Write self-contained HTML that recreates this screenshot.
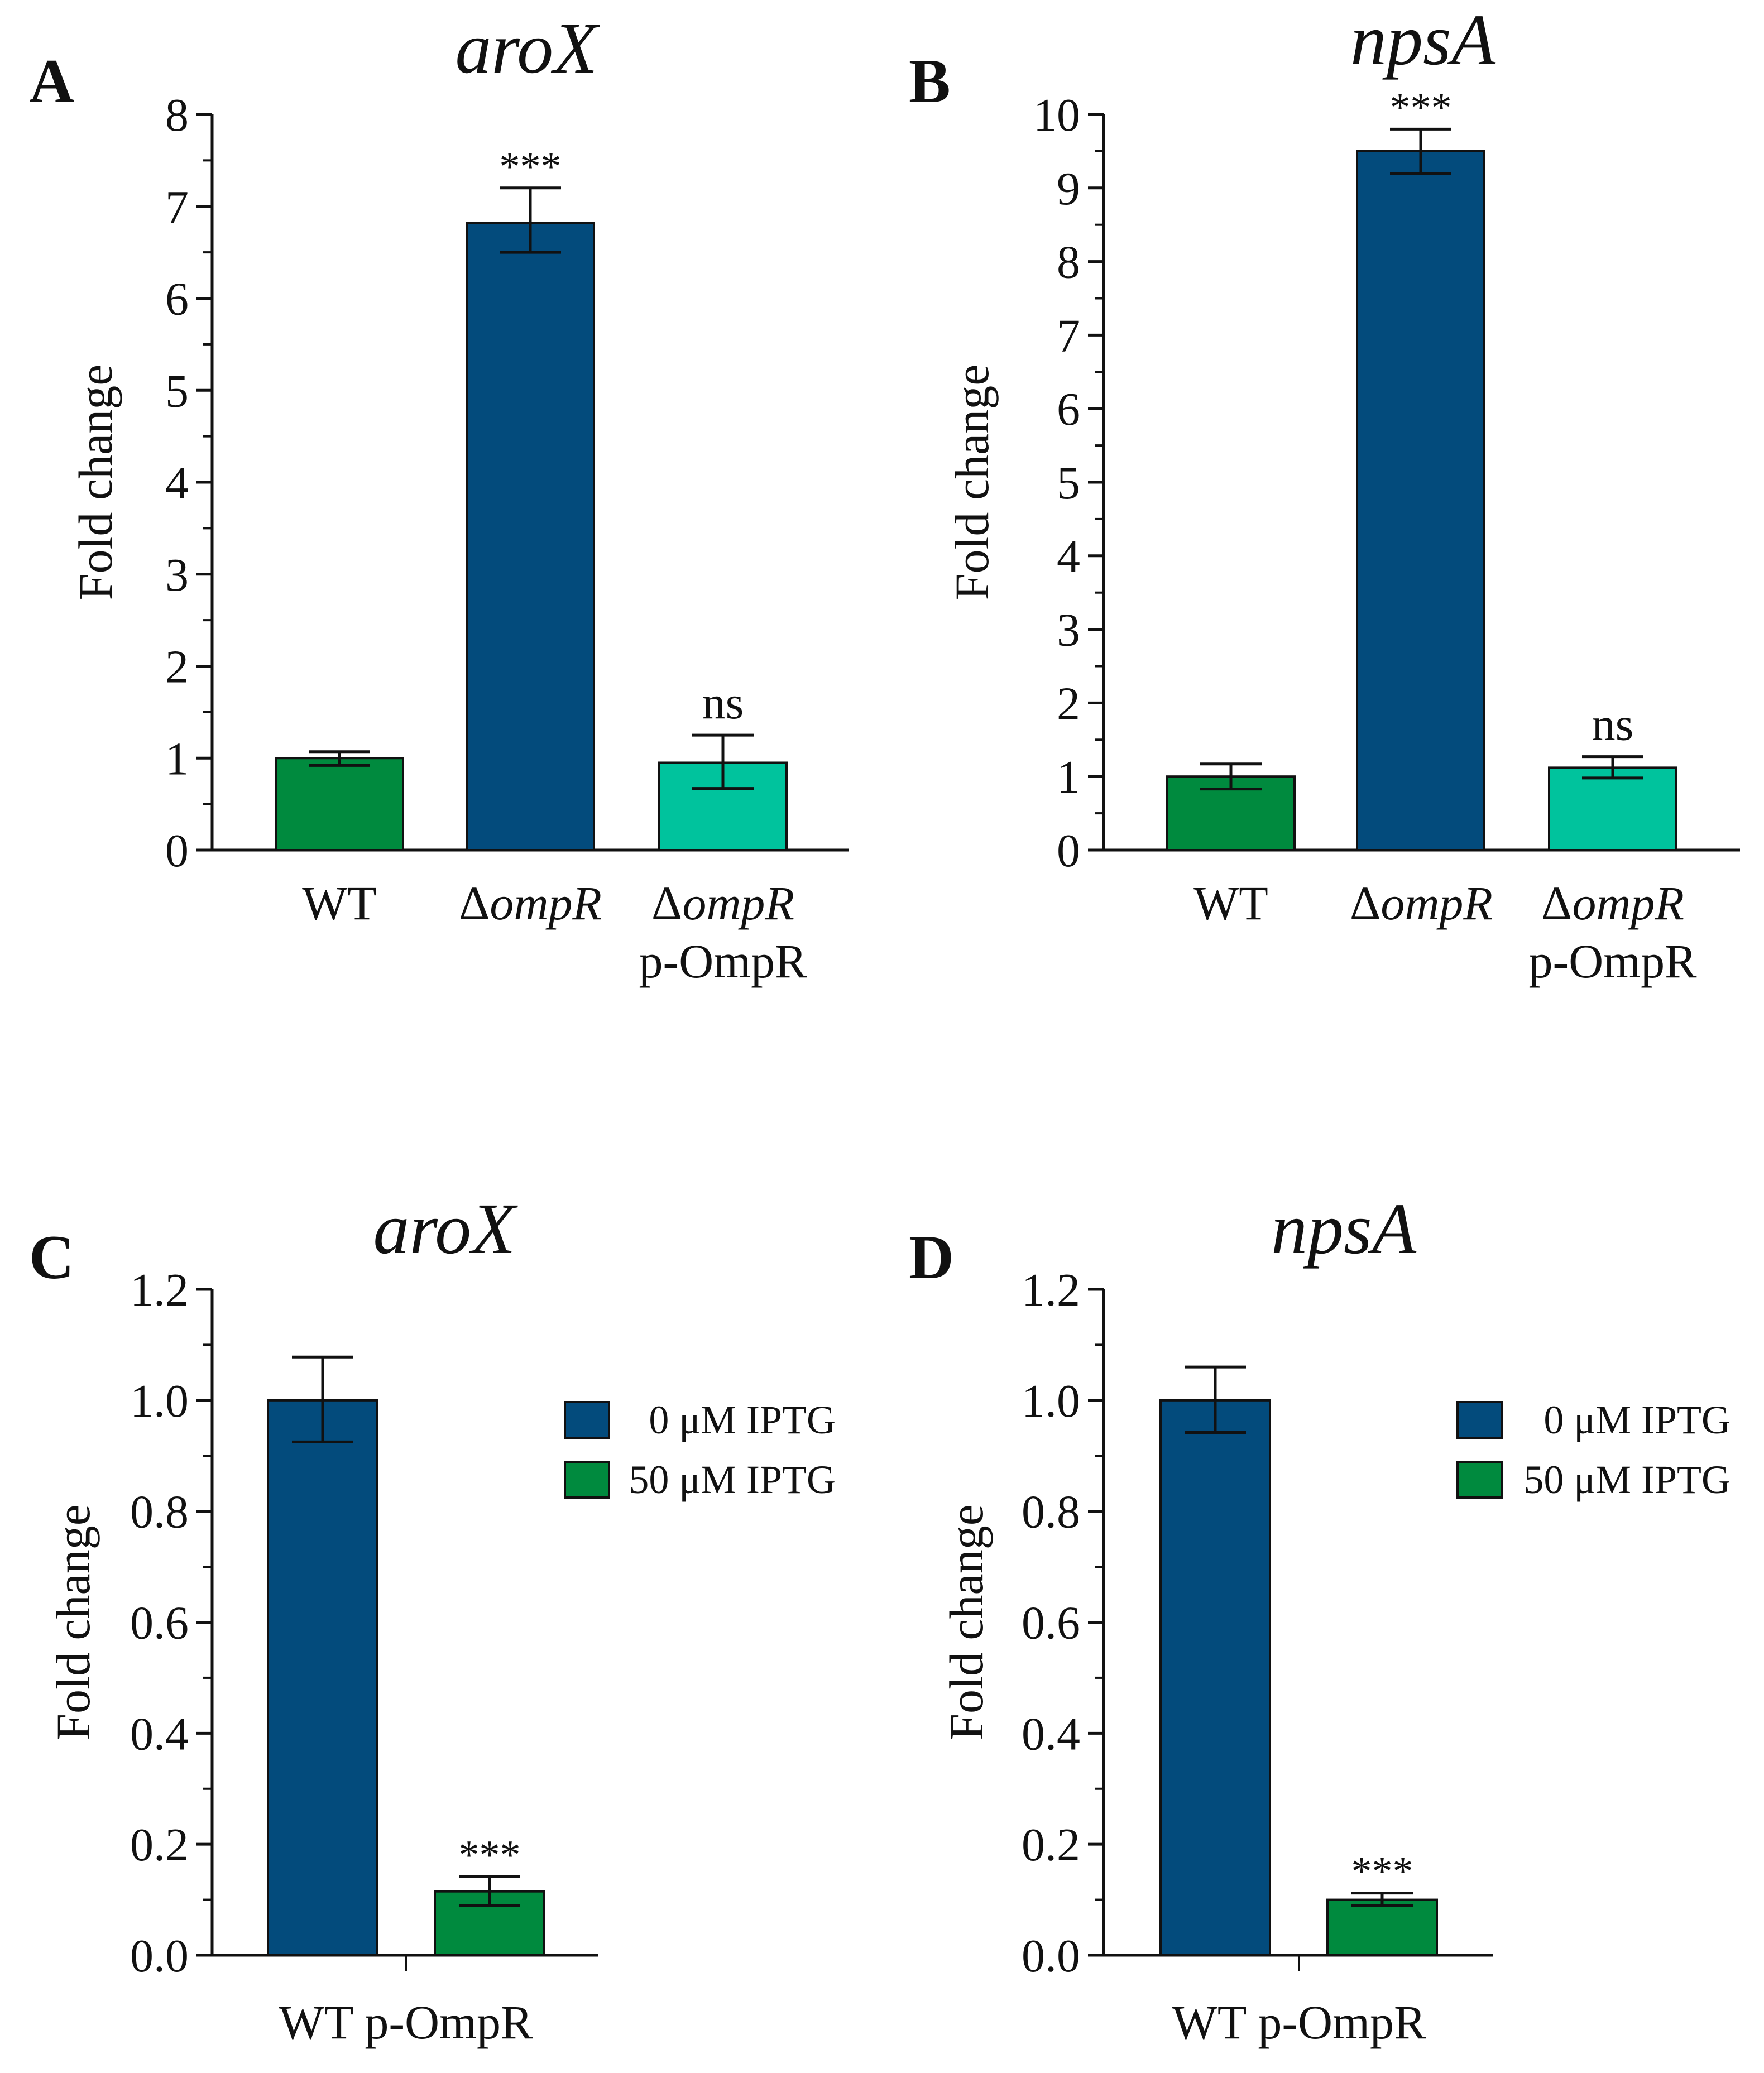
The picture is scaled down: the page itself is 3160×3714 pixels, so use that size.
<!DOCTYPE html>
<html><head><meta charset="utf-8"><style>
html,body{margin:0;padding:0;background:#fff}
svg{display:block}
text{font-family:"Liberation Serif",serif;fill:#111}
</style></head><body>
<svg id="fig" width="3160" height="3714" viewBox="0 0 3160 3714" xmlns="http://www.w3.org/2000/svg"></svg>
<script>
// Panel A data
const aCategories=["WT","ΔompR","ΔompR p-OmpR"];
const aValues=[1.0,6.82,0.95];
const aErrLow=[0.92,6.5,0.67];
const aErrHigh=[1.07,7.2,1.25];
const aSig=["","***","ns"];
const aTicks=[0,1,2,3,4,5,6,7,8];
// Panel B data
const bCategories=["WT","ΔompR","ΔompR p-OmpR"];
const bValues=[1.0,9.5,1.12];
const bErrLow=[0.83,9.2,0.98];
const bErrHigh=[1.17,9.8,1.27];
const bSig=["","***","ns"];
const bTicks=[0,1,2,3,4,5,6,7,8,9,10];
// Panel C data
const cSeries=["0 μM IPTG","50 μM IPTG"];
const cValues=[1.0,0.115];
const cErrLow=[0.925,0.09];
const cErrHigh=[1.078,0.142];
const cSig=["","***"];
const cTicks=[0,0.2,0.4,0.6,0.8,1.0,1.2];
// Panel D data
const dSeries=["0 μM IPTG","50 μM IPTG"];
const dValues=[1.0,0.10];
const dErrLow=[0.942,0.09];
const dErrHigh=[1.06,0.112];
const dSig=["","***"];
const dTicks=[0,0.2,0.4,0.6,0.8,1.0,1.2];

const NS="http://www.w3.org/2000/svg";
const svg=document.getElementById('fig');
function mk(tag,attrs,parent,txt){const e=document.createElementNS(NS,tag);for(const k in attrs)e.setAttribute(k,attrs[k]);if(txt!==undefined)e.textContent=txt;(parent||svg).appendChild(e);return e;}

function panel(o){
  const g=mk('g',{});
  
  
  const max=o.ticks[o.ticks.length-1];
  const y=v=>o.y0-(v/max)*(o.y0-o.yTop);
  const L=mk('text',{x:o.lx,y:o.ly,'font-size':112,'font-weight':'bold'},g,o.id.toUpperCase());
  
  
  const T=mk('text',{x:o.tx,y:o.ty,'font-size':130,'font-style':'italic','text-anchor':'middle'},g,o.title);
  
  
  const Y=mk('text',{x:0,y:0,'font-size':86,'text-anchor':'middle',transform:`translate(${o.yl},${(o.y0+o.yTop)/2}) rotate(-90)`},g,'Fold change');
  
  
  const ax=mk('path',{d:`M${o.ax} ${o.yTop}V${o.y0}H${o.xEnd}`,stroke:'#111','stroke-width':5,fill:'none'},g);
  
  
  for(let i=0;i<o.ticks.length;i++){
    const t=o.ticks[i];
    mk('line',{x1:o.ax-28,x2:o.ax,y1:y(t),y2:y(t),stroke:'#111','stroke-width':5},g);
    const tl=mk('text',{x:o.ax-42,y:y(t)+29,'font-size':84,'text-anchor':'end'},g,o.dec?t.toFixed(1):String(t));
    
    
    if(i<o.ticks.length-1){const m=(t+o.ticks[i+1])/2;mk('line',{x1:o.ax-16,x2:o.ax,y1:y(m),y2:y(m),stroke:'#111','stroke-width':4},g);}
  }
  for(let i=0;i<o.values.length;i++){
    const x0=o.bx[i],w=o.bw,cx=x0+w/2;
    const r=mk('rect',{x:x0,y:y(o.values[i]),width:w,height:o.y0-y(o.values[i]),fill:o.colors[i],stroke:'#111','stroke-width':4},g);
    
    
    const eb=mk('path',{d:`M${cx} ${y(o.lo[i])}V${y(o.hi[i])}M${cx-55} ${y(o.hi[i])}H${cx+55}M${cx-55} ${y(o.lo[i])}H${cx+55}`,stroke:'#111','stroke-width':5,fill:'none'},g);
    
    
    if(o.sig[i]){const s=mk('text',{x:cx,y:y(o.hi[i])-(o.sig[i]==='ns'?30:14),'font-size':o.sig[i]==='ns'?84:74,'text-anchor':'middle'},g,o.sig[i]);
      
      }
  }
}

function catLabels(centers,cats){
  cats.forEach((c,i)=>{
    const cx=centers[i];
    const g=mk('text',{x:cx,y:1647,'font-size':86,'text-anchor':'middle'});
    
    
    if(c==='WT'){g.textContent='WT';}
    else{mk('tspan',{},g,'Δ');mk('tspan',{'font-style':'italic'},g,'ompR');
      if(c.indexOf('p-OmpR')>=0){mk('tspan',{x:cx,y:1751},g,'p-OmpR');}}
  });
}

panel({id:'a',title:'aroX',lx:52,ly:183,tx:943,ty:130,yl:200,ax:380,yTop:205,y0:1523,xEnd:1521,ticks:aTicks,dec:false,
  values:aValues,lo:aErrLow,hi:aErrHigh,sig:aSig,bx:[494,836,1181],bw:228,colors:['#008a3e','#034b7c','#00c39d']});
catLabels([608,950,1295],aCategories);
panel({id:'b',title:'npsA',lx:1628,ly:183,tx:2549,ty:115,yl:1770,ax:1977,yTop:205,y0:1523,xEnd:3117,ticks:bTicks,dec:false,
  values:bValues,lo:bErrLow,hi:bErrHigh,sig:bSig,bx:[2091,2431,2775],bw:228,colors:['#008a3e','#034b7c','#00c39d']});
catLabels([2205,2546,2889],bCategories);
panel({id:'c',title:'aroX',lx:52,ly:2290,tx:796,ty:2245,yl:160,ax:380,yTop:2310,y0:3503,xEnd:1072,ticks:cTicks,dec:true,
  values:cValues,lo:cErrLow,hi:cErrHigh,sig:cSig,bx:[480,779],bw:196,colors:['#034b7c','#008a3e']});
panel({id:'d',title:'npsA',lx:1628,ly:2290,tx:2407,ty:2245,yl:1760,ax:1977,yTop:2310,y0:3503,xEnd:2675,ticks:dTicks,dec:true,
  values:dValues,lo:dErrLow,hi:dErrHigh,sig:dSig,bx:[2079,2378],bw:196,colors:['#034b7c','#008a3e']});

function bottomAxis(cx,series,boxX,textEnd){
  mk('line',{x1:cx,x2:cx,y1:3503,y2:3531,stroke:'#111','stroke-width':4});
  const xl=mk('text',{x:cx,y:3652,'font-size':86,'text-anchor':'middle'},svg,'WT p-OmpR');
  
  
  const cols=['#034b7c','#008a3e'];
  series.forEach((s,i)=>{
    const yy=2512+i*107;
    const r=mk('rect',{x:boxX,y:yy,width:79,height:64,fill:cols[i],stroke:'#111','stroke-width':4});
    
    
    const t=mk('text',{x:textEnd,y:yy+56,'font-size':72,'text-anchor':'end'},svg,s);
    
    
  });
}
bottomAxis(727,cSeries,1012,1497);
bottomAxis(2327,dSeries,2611,3100);
</script>
</body></html>
